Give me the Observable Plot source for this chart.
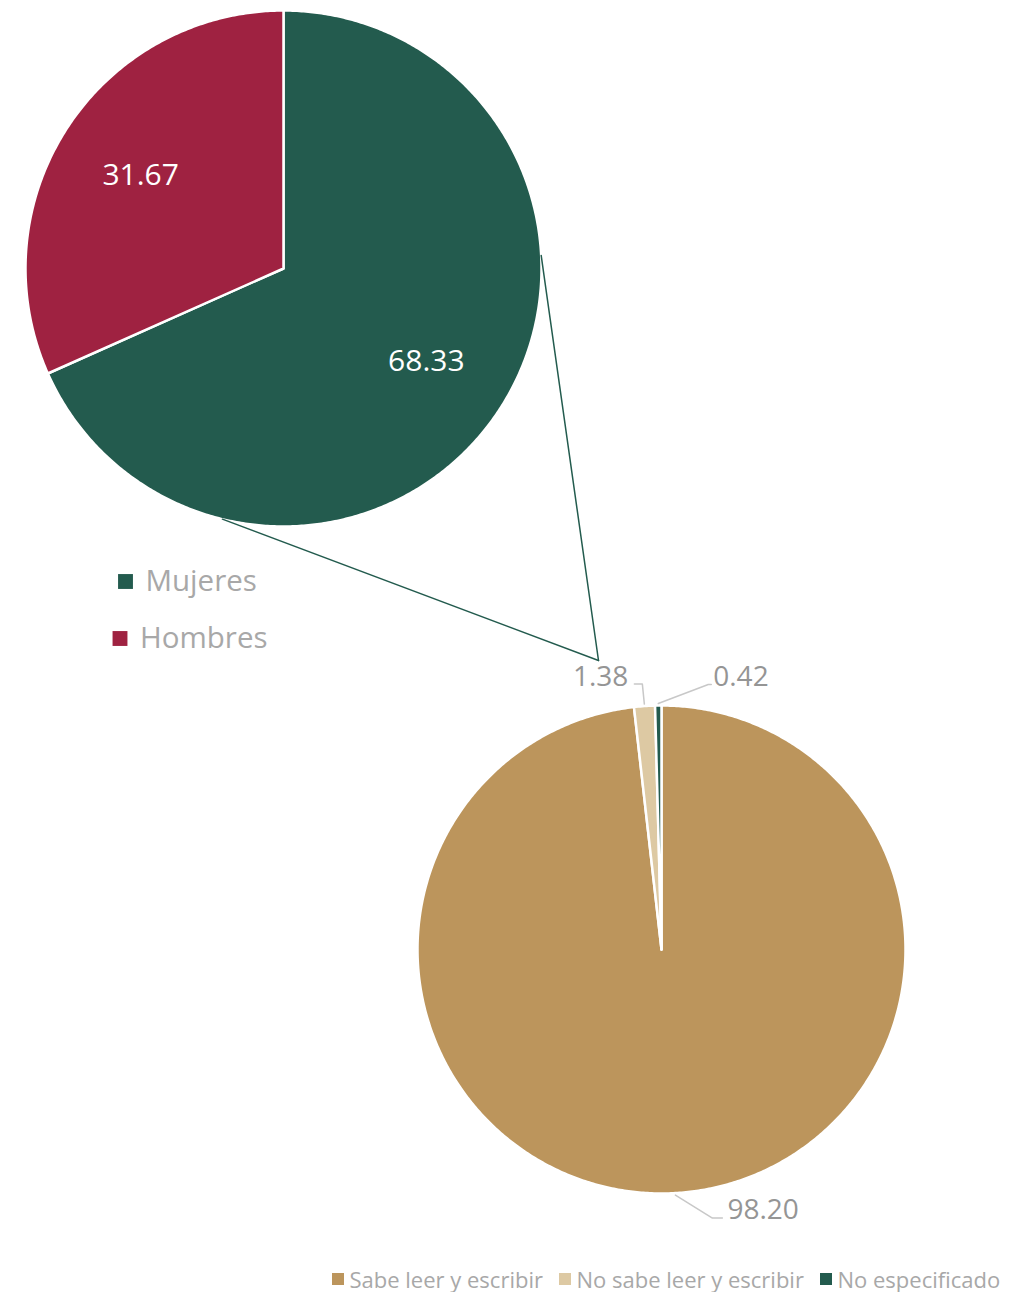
<!DOCTYPE html>
<html><head><meta charset="utf-8">
<script src="https://cdn.jsdelivr.net/npm/d3@7"></script>
<script src="https://cdn.jsdelivr.net/npm/@observablehq/plot@0.6"></script>
<style>
body{margin:0;background:#fff;font-family:'Open Sans',Lato,sans-serif}
svg{display:block}
#legend{position:relative;width:1018px;height:30px}
#legend .item{position:absolute;top:0;height:30px;display:flex;align-items:center;font-size:22px;color:#A8A8A8;white-space:nowrap;line-height:30px}
#legend .sw{width:11.5px;height:11.5px;margin-right:6px;flex:none}
</style>
</head><body><div id="chart"></div><div id="legend"></div>
<script>
// ---- data ----
const sexCategories = ["Mujeres", "Hombres"];
const sexValues = [68.33, 31.67];
const sexLabels = ["68.33", "31.67"];
const literacyCategories = ["Sabe leer y escribir", "No sabe leer y escribir", "No especificado"];
const literacyValues = [98.20, 1.38, 0.42];
const literacyLabels = ["98.20", "1.38", "0.42"];

// ---- layout ----
const W = 1018, H = 1264;
const topPie = {cx: 283, cy: 268, r: 258};
const botPie = {cx: 661, cy: 949, r: 244};
const colors = {
  "Mujeres": "#235B4E", "Hombres": "#9F2241",
  "Sabe leer y escribir": "#BC955C", "No sabe leer y escribir": "#DDC9A3", "No especificado": "#235B4E"
};
const font = "'Open Sans', Lato, sans-serif";

function slices(cats, vals) {
  return d3.pie().sort(null).value(d => d)(vals).map((a, i) => ({
    category: cats[i], value: vals[i], start: a.startAngle, end: a.endAngle,
    mid: (a.startAngle + a.endAngle) / 2
  }));
}
const pt = (pie, a, rr) => ({x: pie.cx + rr * Math.sin(a), y: pie.cy - rr * Math.cos(a)});
function polygon(s, pie, key) {
  const pts = [pt(pie, 0, 0)];
  const n = Math.max(2, Math.ceil((s.end - s.start) / (Math.PI / 360)));
  for (let k = 0; k <= n; k++) pts.push(pt(pie, s.start + (s.end - s.start) * k / n, pie.r));
  pts.push(pt(pie, 0, 0));
  return pts.map(p => ({...p, key, category: s.category}));
}

const topSlices = slices(sexCategories, sexValues);
const botSlices = slices(literacyCategories, literacyValues);
const polys = [
  ...topSlices.flatMap((s, i) => polygon(s, topPie, "t" + i)),
  ...botSlices.flatMap((s, i) => polygon(s, botPie, "b" + i))
];

// inner labels of top pie
const innerLabels = topSlices.map((s, i) => ({...pt(topPie, s.mid, topPie.r * 0.66), text: sexLabels[i]}));

// outer labels of bottom pie with leader lines (offsets are layout)
const leaderLayout = [
  {elbow: [37, 23], end: [47, 23], text: [52, 15], anchor: "start"},
  {elbow: [-2, -20], end: [-10, -20], text: [-16, -27], anchor: "end"},
  {elbow: [50, -19], end: [53, -19], text: [55, -26], anchor: "start"}
];
const leaders = [], outerLabels = [];
botSlices.forEach((s, i) => {
  const a = pt(botPie, s.mid, botPie.r + 2);
  const L = leaderLayout[i];
  [[0, 0], L.elbow, L.end].forEach(o => leaders.push({x: a.x + o[0], y: a.y + o[1], key: i}));
  outerLabels.push({x: a.x + L.text[0], y: a.y + L.text[1], text: literacyLabels[i], anchor: L.anchor});
});

// connector lines from top pie to bottom pie label area
const connectorAngles = [87.1, 193.7];
const connectorTarget = {x: 598, y: 660};
const connectors = connectorAngles.flatMap((deg, i) => {
  const p = pt(topPie, deg * Math.PI / 180, topPie.r);
  return [{...p, key: i}, {...connectorTarget, key: i}];
});

// top legend (inside the SVG)
const topLegend = sexCategories.map((c, i) => ({category: c, x: [125, 119.5][i], y: [581, 638][i]}));

const labelStyle = {x: "x", y: "y", text: "text", fill: "#959595", fontSize: 28};
const chart = Plot.plot({
  width: W, height: H, margin: 0,
  x: {domain: [0, W], range: [0, W], axis: null},
  y: {domain: [0, H], range: [0, H], axis: null},
  color: {domain: Object.keys(colors), range: Object.values(colors)},
  style: {fontFamily: font, background: "white"},
  marks: [
    Plot.line(polys, {x: "x", y: "y", z: "key", fill: "category", stroke: "white", strokeWidth: 2.5, strokeLinejoin: "round", curve: "linear"}),
    Plot.line(connectors, {x: "x", y: "y", z: "key", stroke: "#235B4E", strokeWidth: 1.5}),
    Plot.line(leaders, {x: "x", y: "y", z: "key", stroke: "#C8C8C8", strokeWidth: 1.5}),
    Plot.text(innerLabels, {x: "x", y: "y", text: "text", fill: "white", fontSize: 30}),
    Plot.text(outerLabels.filter(d => d.anchor === "start"), {...labelStyle, textAnchor: "start"}),
    Plot.text(outerLabels.filter(d => d.anchor === "end"), {...labelStyle, textAnchor: "end"}),
    Plot.dot(topLegend, {x: "x", y: "y", symbol: "square", r: 8.4, fill: "category", stroke: null}),
    Plot.text(topLegend, {x: d => d.x + 20, y: "y", text: "category", textAnchor: "start", fill: "#A8A8A8", fontSize: 29.5})
  ]
});
document.getElementById("chart").appendChild(chart);

// bottom legend (HTML, below the SVG)
const legendLeft = [332, 559, 820];
const legend = d3.select("#legend");
literacyCategories.forEach((c, i) => {
  const item = legend.append("div").attr("class", "item").style("left", legendLeft[i] + "px");
  item.append("div").attr("class", "sw").style("background", colors[c]);
  item.append("span").text(c);
});
</script>
</body></html>
